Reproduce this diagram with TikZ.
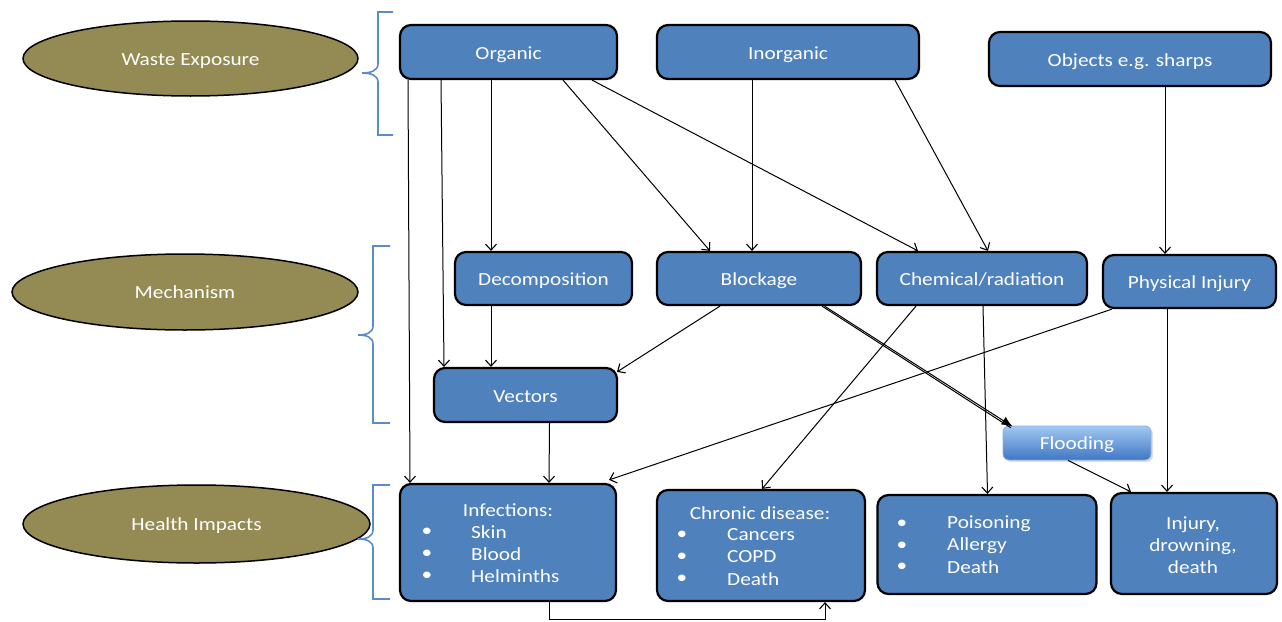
\documentclass[tikz,border=0pt]{standalone}
\usepackage{fontspec}
\setmainfont{Carlito}[FakeStretch=1.15]
\usetikzlibrary{arrows.meta,shapes.geometric,calc,shadows}
\definecolor{boxblue}{HTML}{4F81BD}
\definecolor{olive}{HTML}{948A54}
\definecolor{brk}{HTML}{5B8BC8}
\definecolor{fltop}{HTML}{A3C8F2}
\definecolor{flbot}{HTML}{3F77C4}
\tikzset{
  box/.style={draw=black, line width=2.2pt, fill=boxblue, rounded corners=11pt, inner sep=0pt, text=white, font=\fontsize{18.5}{22}\selectfont, text height=14.5pt, text depth=0.5pt},
  oval/.style={ellipse, draw=black, line width=1.5pt, fill=olive, inner sep=0pt, text=white, font=\fontsize{18.5}{22}\selectfont, text height=14pt, text depth=1pt},
  txt/.style={inner sep=0pt, text=white, font=\fontsize{18.5}{22}\selectfont},
  arr/.style={line width=1pt, -{Straight Barb[length=6pt,width=11pt,line width=1.1pt]}},
  farr/.style={line width=1pt, -{Latex[length=11pt,width=9pt]}},
  brace/.style={draw=brk, line width=1.6pt},
  floodbox/.style={draw=fltop!70!flbot, line width=0.8pt, top color=fltop, bottom color=flbot, rounded corners=6pt, inner sep=0pt, text=white, font=\fontsize{18.5}{22}\selectfont, text height=14pt, text depth=1pt, drop shadow={opacity=0.25, shadow xshift=2pt, shadow yshift=-2pt}}
}
\begin{document}
\begin{tikzpicture}[x=1pt,y=-1pt]
\useasboundingbox (0,0) rectangle (1282,621);
% ellipses
\node[oval, minimum width=335, minimum height=75] (we) at (190.5,58.5) {Waste Exposure};
\node[oval, minimum width=346, minimum height=76] (mech) at (185,292) {Mechanism};
\node[oval, minimum width=347, minimum height=78] (hi) at (196.5,524) {Health Impacts};
% braces
\draw[brace] (393,12) -- (378,12) -- (378,64) .. controls (378,71) and (370,73) .. (362,73) .. controls (370,73) and (378,75) .. (378,82) -- (378,135) -- (393,135);
\draw[brace] (390,246) -- (373,246) -- (373,326) .. controls (373,333) and (366,335) .. (358,335) .. controls (366,335) and (373,337) .. (373,344) -- (373,423) -- (390,423);
\draw[brace] (390,485) -- (373,485) -- (373,530) .. controls (373,537) and (366,539) .. (358,539) .. controls (366,539) and (373,541) .. (373,548) -- (373,599) -- (390,599);
% top row
\node[box, minimum width=217, minimum height=54] (org) at (508.5,52) {Organic};
\node[box, minimum width=262, minimum height=54] (inorg) at (788,52) {Inorganic};
\node[box, minimum width=282, minimum height=54] (obj) at (1130,59) {Objects e.g. sharps};
% mechanism row
\node[box, minimum width=177, minimum height=53] (dec) at (543.5,278.5) {Decomposition};
\node[box, minimum width=204, minimum height=53] (blk) at (759,278.5) {Blockage};
\node[box, minimum width=210, minimum height=53] (chem) at (982,278.5) {Chemical/radiation};
\node[box, minimum width=173, minimum height=53] (phys) at (1189.5,281.5) {Physical Injury};
\node[box, minimum width=183, minimum height=54] (vec) at (525.5,395) {Vectors};
\node[floodbox, minimum width=148, minimum height=34] (flood) at (1077,443) {Flooding};
% health row
\node[box, minimum width=216, minimum height=117] (inf) at (508,542.5) {};
\node[box, minimum width=208, minimum height=111] (chr) at (761,545.5) {};
\node[box, minimum width=219, minimum height=99] (poi) at (987,544.5) {};
\node[box, minimum width=166, minimum height=101] (inj) at (1194,543.5) {};
% infections text
\node[txt] (infh) at (508,510) {Infections:};
\node[txt] (infb1) at (427,532) {\textbullet};
\node[txt] (infb2) at (427,554) {\textbullet};
\node[txt] (infb3) at (427,576) {\textbullet};
\node[txt, anchor=west] (inft1) at (471,532) {Skin};
\node[txt, anchor=west] (inft2) at (471,554) {Blood};
\node[txt, anchor=west] (inft3) at (471,576) {Helminths};
% chronic text
\node[txt] (chrh) at (760,513) {Chronic disease:};
\node[txt] (chrb1) at (682,535) {\textbullet};
\node[txt] (chrb2) at (682,557) {\textbullet};
\node[txt] (chrb3) at (682,579) {\textbullet};
\node[txt, anchor=west] (chrt1) at (727,535) {Cancers};
\node[txt, anchor=west] (chrt2) at (727,557) {COPD};
\node[txt, anchor=west] (chrt3) at (727,579) {Death};
% poisoning text
\node[txt] (poib1) at (902,524) {\textbullet};
\node[txt] (poib2) at (902,546) {\textbullet};
\node[txt] (poib3) at (902,567) {\textbullet};
\node[txt, anchor=west] (poit1) at (947,524) {Poisoning};
\node[txt, anchor=west] (poit2) at (947,546) {Allergy};
\node[txt, anchor=west] (poit3) at (947,567) {Death};
% injury text
\node[txt, align=center] (injt) at (1193,545) {Injury,\\drowning,\\death};
% connectors
\draw[arr] ([xshift=-100.5]org.south) -- ([xshift=-98]inf.north);
\draw[arr] ([xshift=-67.5]org.south) -- ([xshift=-81.5]vec.north);
\draw[arr] ([xshift=-17.5]org.south) -- ([xshift=-52.5]dec.north);
\draw[arr] ([xshift=54.5]org.south) -- ([xshift=-49]blk.north);
\draw[arr] ([xshift=83.5]org.south) -- ([xshift=-64]chem.north);
\draw[arr] ([xshift=-36]inorg.south) -- ([xshift=-7]blk.north);
\draw[arr] ([xshift=107]inorg.south) -- ([xshift=6]chem.north);
\draw[arr] ([xshift=35]obj.south) -- ([xshift=-24.5]phys.north);
\draw[arr] ([xshift=-52.5]dec.south) -- ([xshift=-34.5]vec.north);
\draw[arr] ([xshift=-39]blk.south) -- ([xshift=91.5,yshift=-5]vec.north);
\draw[line width=1pt] ([xshift=63]blk.south) -- ([xshift=8,yshift=-2]flood.north west);
\draw[farr] ([xshift=65.5]blk.south) -- ([xshift=10,yshift=-1]flood.north west);
\draw[arr] ([xshift=-66]chem.south) -- ([xshift=1]chr.north);
\draw[arr] ([xshift=1]chem.south) -- ([xshift=0.5]poi.north);
\draw[arr] ([xshift=-77.5]phys.south) -- ([xshift=-8,yshift=3]inf.north east);
\draw[arr] ([xshift=-22.5]phys.south) -- ([xshift=-27]inj.north);
\draw[arr] ([xshift=24]vec.south) -- ([xshift=41]inf.north);
\draw[arr] ([xshift=-9]flood.south) -- ([xshift=-63]inj.north);
\draw[arr] ([xshift=41]inf.south) -- ++(0,17) -| ([xshift=64]chr.south);
\end{tikzpicture}
\end{document}
